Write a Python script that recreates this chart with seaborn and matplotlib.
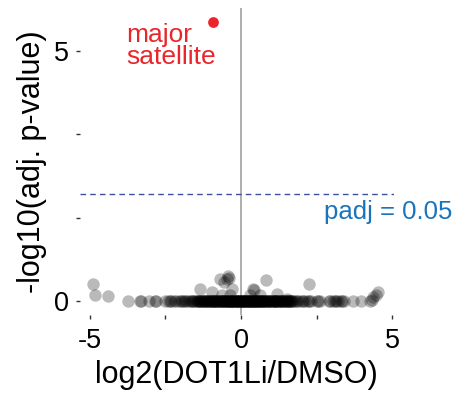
import numpy as np
import pandas as pd
import seaborn as sns
import matplotlib.pyplot as plt

# points lifted off the baseline (log2 fold change, -log10 padj)
raised_x = [-4.88, -4.83, -4.41, -1.36, -0.97, -0.69, -0.58, -0.42, -0.39,
            -0.64, -0.36, -0.31, 0.41, 0.83, 0.30, 0.63, 1.18, 1.51, 2.23,
            4.37, 4.54, 4.32, 4.45, -0.45, 0.43]
raised_y = [0.35, 0.13, 0.11, 0.25, 0.19, 0.45, 0.39, 0.50, 0.47,
            0.12, 0.12, 0.25, 0.25, 0.42, 0.12, 0.13, 0.15, 0.05, 0.35,
            0.09, 0.19, 0.03, 0.13, 0.44, 0.23]

# points sitting on padj ~ 1 (y = 0)
zero_x = [-3.75, -3.35, -3.30, -3.05, -2.85, -2.80, -2.50, -2.35, -2.30, -2.20,
          -2.15, -2.05, -2.00, -1.95, -1.90, -1.85, -1.80, -1.72, -1.65, -1.60,
          -1.55, -1.50, -1.45, -1.40, -1.35, -1.30, -1.25, -1.20, -1.15, -1.10,
          -1.05, -1.00, -0.95, -0.90, -0.85, -0.80, -0.75, -0.70, -0.65, -0.60,
          -0.55, -0.50, -0.45, -0.40, -0.35, -0.30, -0.25, -0.20, -0.15, -0.10,
          -0.05, 0.00, 0.05, 0.10, 0.15, 0.20, 0.25, 0.30, 0.35, 0.40,
          0.45, 0.50, 0.55, 0.60, 0.65, 0.70, 0.75, 0.80, 0.85, 0.90,
          0.95, 1.00, 1.05, 1.10, 1.15, 1.20, 1.25, 1.30, 1.35, 1.40,
          1.45, 1.50, 1.55, 1.60, 1.65, 1.70, -1.32, -1.12, -0.92, -0.72,
          -0.52, -0.32, -0.12, 0.08, 0.28, 0.48, 0.68, 0.88, 1.08, 1.28,
          -0.62, -0.42, -0.22, -0.02, 0.18, 0.38, 0.58, 1.75, 1.85, 1.90,
          2.05, 2.20, 2.25, 2.50, 2.55, 2.90, 2.95, 3.10, 3.20, 3.35,
          3.40, 3.70, 3.95, 4.25, -1.27, -1.07, -0.87, -0.67, -0.47, -0.27,
          -0.07, 0.13, 0.33, 0.53, 0.73, 0.93, 1.13, 1.33, 1.53, -0.57,
          -0.37, -0.17, 0.03, 0.23, 0.43, 0.63, -1.62, -2.40, 2.00, 2.30,
          3.05, 3.30, -1.38, -1.22, -1.17, -1.02, -0.97, -0.82, -0.77, -0.60,
          -0.48, -0.38, -0.28, -0.18, -0.08, 0.02, 0.12, 0.22, 0.32, 0.42,
          0.52, 0.62, 0.72, 0.82, 0.97, 1.02, 1.17, 1.22, 1.37, 1.42,
          1.57, 1.62, 1.68, -1.42, -0.88, -0.33, -0.13, 0.07, 0.27, 0.47,
          0.78, 1.12, 1.48, 1.80, 2.10, 2.60, 3.15]

# the labelled hit
hit_x = [-0.93]
hit_y = [5.58]
hit_label = "major\nsatellite"

padj_line = 2.15
padj_label = "padj = 0.05"

x_ticks = [-5, -2.5, 0, 2.5, 5]
x_tick_labels = ["-5", "", "0", "", "5"]
y_ticks = [0, 5 / 3, 10 / 3, 5]
y_tick_labels = ["0", "", "", "5"]

bg = pd.DataFrame({
    "lfc": zero_x + raised_x,
    "nlp": [0.0] * len(zero_x) + raised_y,
})
hit = pd.DataFrame({"lfc": hit_x, "nlp": hit_y})

sns.set_style("white")
plt.rcParams["font.family"] = ["Liberation Sans", "DejaVu Sans"]
plt.rcParams["text.color"] = "black"
plt.rcParams["axes.labelcolor"] = "black"
plt.rcParams["xtick.color"] = "#333333"
plt.rcParams["ytick.color"] = "#333333"
plt.rcParams["xtick.labelcolor"] = "black"
plt.rcParams["ytick.labelcolor"] = "black"

fig = plt.figure(figsize=(4.56, 3.96), dpi=100)
ax = fig.add_axes([0.175, 0.2045, 0.688, 0.7753])

ax.axvline(0, color="#a8a8a8", lw=1.3, zorder=1)
ax.axhline(padj_line, color="#3d4f9e", lw=1.0, ls=(0, (4, 3)), zorder=1)

sns.scatterplot(data=bg, x="lfc", y="nlp", ax=ax, color="black", alpha=0.27,
                s=80, linewidth=0, zorder=2)
sns.scatterplot(data=hit, x="lfc", y="nlp", ax=ax, color="#e8262b",
                s=60, linewidth=0, zorder=3)

ax.text(-3.8, 5.1, hit_label, color="#e8262b", fontsize=19,
        ha="left", va="center", linespacing=0.85)
ax.text(6.97, 1.78, padj_label, color="#1a74bb", fontsize=18.5,
        ha="right", va="center", clip_on=False)

ax.set_xlim(-5.33, 5.04)
ax.set_ylim(-0.28, 5.86)
ax.set_xticks(x_ticks)
ax.set_xticklabels(x_tick_labels)
ax.set_yticks(y_ticks)
ax.set_yticklabels(y_tick_labels)
ax.tick_params(axis="both", bottom=True, left=True, length=3, width=1,
               labelsize=19.5, pad=5, direction="out")
ax.tick_params(axis="x", pad=6)
for sp in ax.spines.values():
    sp.set_visible(False)

ax.set_xlabel("log2(DOT1Li/DMSO)", fontsize=22, labelpad=5)
ax.set_ylabel("-log10(adj. p-value)", fontsize=22, labelpad=5)

fig.savefig("out.png", dpi=100)
